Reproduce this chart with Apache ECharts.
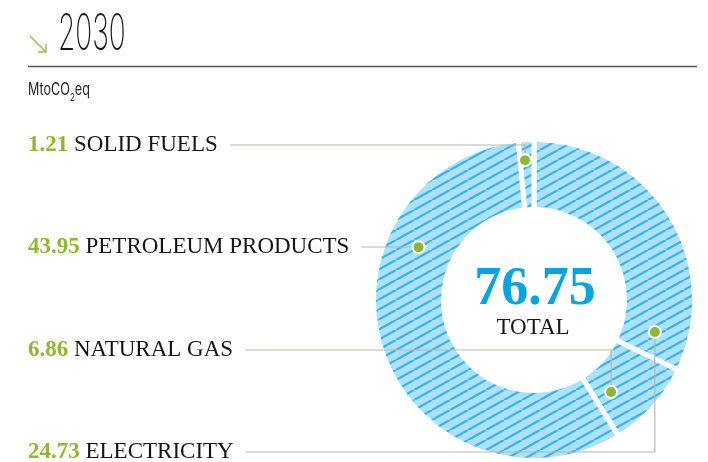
<!DOCTYPE html>
<html lang="en">
<head>
<meta charset="UTF-8">
<title>2030</title>
<script src="https://cdn.jsdelivr.net/npm/echarts@6/dist/echarts.min.js"></script>
<style>html,body{margin:0;padding:0;background:#fff}</style>
</head>
<body>
<div id="dom" style="width:708px;height:462px"></div>
<script>
// data, clockwise from 12 o'clock
var categories = ['ELECTRICITY', 'NATURAL GAS', 'PETROLEUM PRODUCTS', 'SOLID FUELS'];
var values = [24.73, 6.86, 43.95, 1.21];
var yearLabel = '2030';
var totalLabel = 'TOTAL';

// layout: label row for each slice (top to bottom), where its leader dot sits
var labelRow = [3, 2, 1, 0];
var rowY = [145, 247, 350, 452];
var dotAngle = [104.8, 140, 294.6, 356.3];
var dotRadius = [125, 120, 127, 140];

var cx = 534, cy = 300, outerR = 160.5, innerR = 90.5;
var green = '#8cb92d';

var total = values.reduce(function (a, b) { return a + b; }, 0);

// hatched fill
var tw = 18, th = 10;
var tile = document.createElement('canvas');
tile.width = tw; tile.height = th;
var ctx = tile.getContext('2d');
ctx.fillStyle = '#ace1f8';
ctx.fillRect(0, 0, tw, th);
ctx.strokeStyle = '#38b5ea';
ctx.lineWidth = 2.3;
for (var k = -1; k <= 1; k++) {
    ctx.beginPath();
    ctx.moveTo(k * tw, th);
    ctx.lineTo(tw + k * tw, 0);
    ctx.stroke();
}

function dotPixel(i) {
    var a = dotAngle[i] * Math.PI / 180;
    return [cx + dotRadius[i] * Math.sin(a), cy - dotRadius[i] * Math.cos(a)];
}

var dom = document.getElementById('dom');
var myChart = echarts.init(dom);

var pieData = categories.map(function (c, i) { return { name: c, value: values[i] }; });
var dotData = categories.map(function (c, i) { return [dotRadius[i], dotAngle[i]]; });

var option = {
    animation: false,
    polar: { center: [cx, cy], radius: outerR },
    angleAxis: { type: 'value', min: 0, max: 360, startAngle: 90, clockwise: true, show: false },
    radiusAxis: { type: 'value', min: 0, max: outerR, show: false },
    graphic: [
        {
            type: 'group',
            children: [
                { type: 'line', shape: { x1: 30, y1: 36, x2: 46, y2: 52 }, style: { stroke: '#8dc34a', lineWidth: 1.4 } },
                { type: 'polyline', shape: { points: [[38, 52], [46, 52], [46, 44]] }, style: { stroke: '#8dc34a', lineWidth: 1.4, fill: null } }
            ]
        },
        {
            type: 'text', x: 58, y: 35, scaleX: 0.56,
            style: { text: yearLabel, fontFamily: 'Inter', fontWeight: 200, fontSize: 50, fill: '#1a1a1a', textVerticalAlign: 'middle' }
        },
        {
            type: 'line', shape: { x1: 28, y1: 66.5, x2: 697, y2: 66.5 },
            style: { stroke: '#555', lineWidth: 1.5 }
        },
        {
            type: 'text', x: 28, y: 86, scaleX: 0.74,
            style: {
                text: '{a|MtoCO}{s|2}{a|eq}',
                fill: '#222',
                rich: {
                    a: { fontFamily: 'Inter', fontSize: 17, lineHeight: 17, padding: [0, 0, 5, 0], verticalAlign: 'bottom', fill: '#222' },
                    s: { fontFamily: 'Inter', fontSize: 11, lineHeight: 12, verticalAlign: 'bottom', fill: '#222' }
                }
            }
        },
        {
            type: 'text', x: cx + 1, y: 290, z: 10,
            style: { text: total.toFixed(2), fontFamily: 'Liberation Serif', fontWeight: 'bold', fontSize: 54, fill: '#06a4e4', textAlign: 'center', textVerticalAlign: 'middle' }
        },
        {
            type: 'text', x: cx - 1, y: 328, z: 10,
            style: { text: totalLabel, fontFamily: 'Liberation Serif', fontSize: 23, fill: '#1a1a1a', textAlign: 'center', textVerticalAlign: 'middle' }
        }
    ],
    series: [
        {
            // ring
            type: 'pie',
            center: [cx, cy],
            radius: [innerR, outerR],
            startAngle: 90,
            clockwise: true,
            silent: true,
            z: 1,
            itemStyle: {
                color: { image: tile, repeat: 'repeat' },
                borderColor: '#fff',
                borderWidth: 5
            },
            label: { show: false },
            labelLine: { show: false },
            data: pieData
        },
        {
            // labels and leader lines, drawn over the ring
            type: 'pie',
            center: [cx, cy],
            radius: [innerR, outerR],
            startAngle: 90,
            clockwise: true,
            avoidLabelOverlap: false,
            silent: true,
            z: 3,
            itemStyle: { color: 'rgba(0,0,0,0)', borderWidth: 0 },
            label: {
                show: true,
                position: 'outside',
                fontFamily: 'Liberation Serif',
                fontSize: 23,
                formatter: function (p) {
                    return '{v|' + p.value.toFixed(2) + '} {n|' + p.name + '}';
                },
                rich: {
                    v: { fontFamily: 'Liberation Serif', fontWeight: 'bold', fontSize: 23, color: green },
                    n: { fontFamily: 'Liberation Serif', fontSize: 23, color: '#151515' }
                }
            },
            labelLine: { show: true, lineStyle: { color: '#b8b8b2', width: 1.2 } },
            labelLayout: function (params) {
                var i = params.dataIndex;
                var y = rowY[labelRow[i]];
                var dot = dotPixel(i);
                var start = [28 + params.labelRect.width + 12, y];
                return {
                    x: 28,
                    y: y,
                    align: 'left',
                    verticalAlign: 'middle',
                    labelLinePoints: [dot, [dot[0], y], start]
                };
            },
            data: pieData
        },
        {
            type: 'scatter',
            coordinateSystem: 'polar',
            silent: true,
            z: 5,
            symbolSize: 12,
            itemStyle: { color: green, borderColor: '#fff', borderWidth: 2, opacity: 1 },
            data: dotData
        }
    ]
};
myChart.setOption(option);
</script>
</body>
</html>
